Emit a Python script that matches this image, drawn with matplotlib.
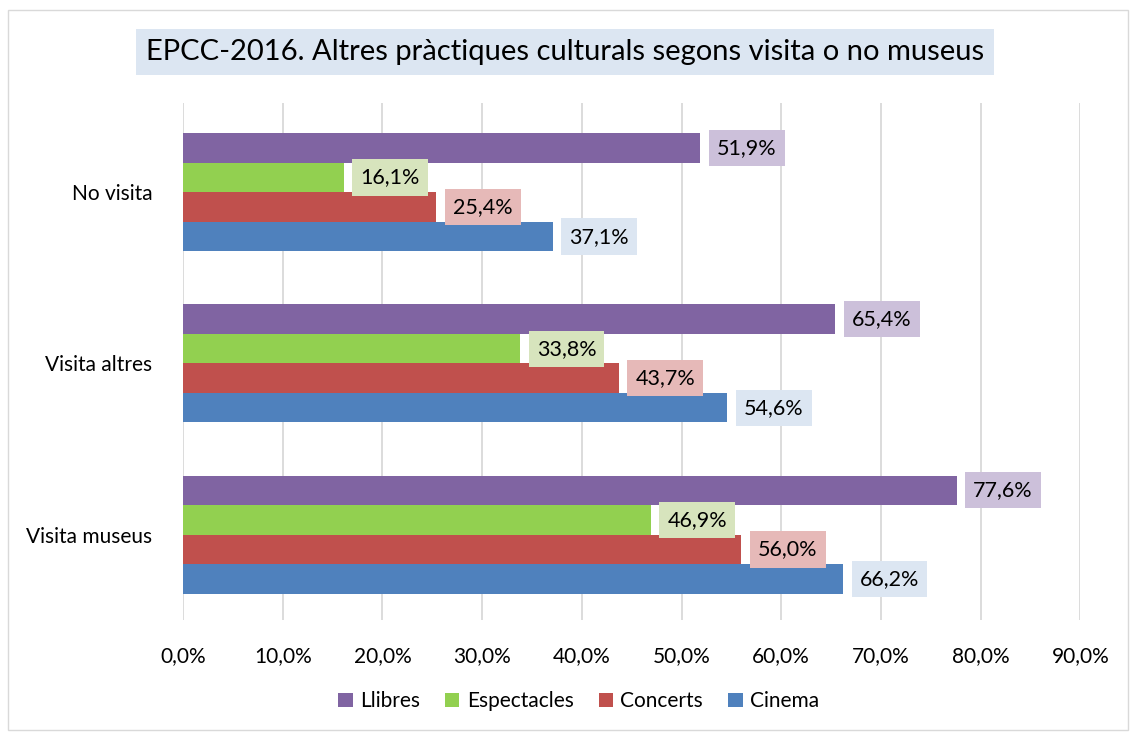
import matplotlib.pyplot as plt
from matplotlib.patches import Rectangle
import numpy as np

# --------- Dades ---------
categories = ["Visita museus", "Visita altres", "No visita"]
series_names = ["Llibres", "Espectacles", "Concerts", "Cinema"]
llibres = [77.6, 65.4, 51.9]
espectacles = [46.9, 33.8, 16.1]
concerts = [56.0, 43.7, 25.4]
cinema = [66.2, 54.6, 37.1]
xticks = [0, 10, 20, 30, 40, 50, 60, 70, 80, 90]

series_values = [llibres, espectacles, concerts, cinema]
bar_colors = ["#8064a2", "#92d050", "#c0504d", "#4f81bd"]
label_colors = ["#ccc0da", "#d7e4bd", "#e6b9b8", "#dce6f2"]

plt.rcParams["font.family"] = ["Lato", "DejaVu Sans"]

fig = plt.figure(figsize=(11.3, 7.33), dpi=100)
ax = fig.add_axes([0.162, 0.154, 0.794, 0.705])

# contorn del gràfic
fig.patches.append(Rectangle((0.007, 0.004), 0.991, 0.983, transform=fig.transFigure,
                             fill=False, edgecolor="#d9d9d9", linewidth=1))

bar_h = 0.1725
y = np.arange(len(categories))
for i, (name, vals) in enumerate(zip(series_names, series_values)):
    pos = y + (1.5 - i) * bar_h
    ax.barh(pos, [v / 100 for v in vals], height=bar_h, color=bar_colors[i],
            label=name, zorder=3)
    for p, v in zip(pos, vals):
        ax.annotate(f"{v:.1f}%".replace(".", ","), xy=(v / 100, p), xytext=(12, 0),
                    textcoords="offset points", ha="left", va="center", fontsize=15.5,
                    bbox=dict(boxstyle="square,pad=0.38", facecolor=label_colors[i],
                              edgecolor="none"), zorder=4)

ax.set_xlim(0, 0.9)
ax.set_ylim(-0.5, 2.52)
ax.set_xticks([t / 100 for t in xticks])
ax.set_xticklabels([f"{t:.1f}%".replace(".", ",") for t in xticks], fontsize=15)
ax.set_yticks(y)
ax.set_yticklabels(categories, fontsize=15)
ax.tick_params(axis="x", length=0, pad=19)
ax.tick_params(axis="y", length=0, pad=22)
ax.grid(True, axis="x", color="#d9d9d9", linewidth=1.3, zorder=0)
for s in ax.spines.values():
    s.set_visible(False)

fig.text(0.5, 0.929, "EPCC-2016. Altres pràctiques culturals segons visita o no museus",
         ha="center", va="center", fontsize=21, color="#000000",
         bbox=dict(boxstyle="square,pad=0.35", facecolor="#dce6f2", edgecolor="none"))

fig.legend(loc="center", bbox_to_anchor=(0.512, 0.043), ncol=4, frameon=False,
           fontsize=15, handlelength=0.7, handleheight=0.7, handletextpad=0.35,
           columnspacing=1.2)

plt.savefig("out.png", dpi=100)
